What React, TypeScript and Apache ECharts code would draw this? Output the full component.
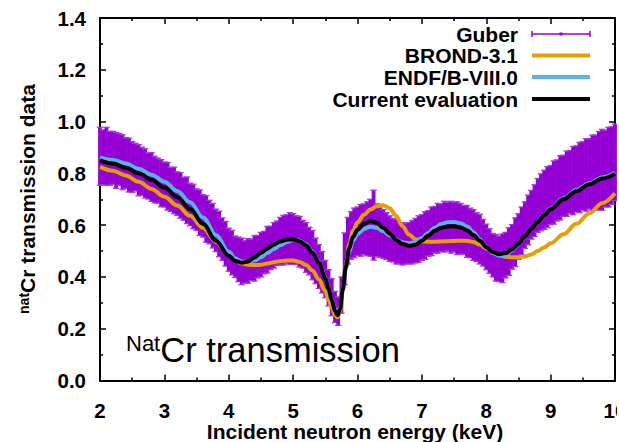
import React, { useEffect, useRef } from "react";
import * as echarts from "echarts";

// ---- Data ----
const guberEnergy = [
  2.0, 2.05, 2.1, 2.15, 2.2, 2.25, 2.3, 2.35, 2.4, 2.45,
  2.5, 2.55, 2.6, 2.65, 2.7, 2.75, 2.8, 2.85, 2.9, 2.95,
  3.0, 3.05, 3.1, 3.15, 3.2, 3.25, 3.3, 3.35, 3.4, 3.45,
  3.5, 3.55, 3.6, 3.65, 3.7, 3.75, 3.8, 3.85, 3.9, 3.95,
  4.0, 4.05, 4.1, 4.15, 4.2, 4.25, 4.3, 4.35, 4.4, 4.45,
  4.5, 4.55, 4.6, 4.65, 4.7, 4.75, 4.8, 4.85, 4.9, 4.95,
  5.0, 5.05, 5.1, 5.15, 5.2, 5.25, 5.3, 5.35, 5.4, 5.45,
  5.5, 5.55, 5.6, 5.65, 5.7, 5.75, 5.8, 5.85, 5.9, 5.95,
  6.0, 6.05, 6.1, 6.15, 6.2, 6.25, 6.3, 6.35, 6.4, 6.45,
  6.5, 6.55, 6.6, 6.65, 6.7, 6.75, 6.8, 6.85, 6.9, 6.95,
  7.0, 7.05, 7.1, 7.15, 7.2, 7.25, 7.3, 7.35, 7.4, 7.45,
  7.5, 7.55, 7.6, 7.65, 7.7, 7.75, 7.8, 7.85, 7.9, 7.95,
  8.0, 8.05, 8.1, 8.15, 8.2, 8.25, 8.3, 8.35, 8.4, 8.45,
  8.5, 8.55, 8.6, 8.65, 8.7, 8.75, 8.8, 8.85, 8.9, 8.95,
  9.0, 9.05, 9.1, 9.15, 9.2, 9.25, 9.3, 9.35, 9.4, 9.45,
  9.5, 9.55, 9.6, 9.65, 9.7, 9.75, 9.8, 9.85, 9.9, 9.95,
  10.0,
];
const guberTransmission = [
  0.866, 0.862, 0.866, 0.858, 0.86, 0.85, 0.854, 0.843, 0.84, 0.832,
  0.824, 0.824, 0.812, 0.808, 0.8, 0.79, 0.786, 0.776, 0.772, 0.762,
  0.757, 0.75, 0.738, 0.734, 0.722, 0.715, 0.702, 0.696, 0.68, 0.672,
  0.66, 0.648, 0.636, 0.624, 0.612, 0.598, 0.58, 0.566, 0.546, 0.528,
  0.505, 0.494, 0.478, 0.468, 0.46, 0.458, 0.462, 0.466, 0.472, 0.478,
  0.486, 0.494, 0.505, 0.512, 0.522, 0.53, 0.538, 0.542, 0.546, 0.548,
  0.546, 0.542, 0.536, 0.526, 0.514, 0.5, 0.484, 0.462, 0.44, 0.418,
  0.392, 0.358, 0.322, 0.284, 0.268, 0.33, 0.47, 0.54, 0.56, 0.57,
  0.576, 0.58, 0.584, 0.586, 0.59, 0.6, 0.58, 0.574, 0.566, 0.558,
  0.548, 0.542, 0.536, 0.53, 0.528, 0.528, 0.53, 0.534, 0.54, 0.546,
  0.552, 0.56, 0.568, 0.576, 0.582, 0.588, 0.59, 0.594, 0.594, 0.592,
  0.592, 0.588, 0.586, 0.582, 0.576, 0.57, 0.562, 0.554, 0.546, 0.532,
  0.516, 0.5, 0.484, 0.474, 0.47, 0.472, 0.484, 0.498, 0.516, 0.534,
  0.556, 0.578, 0.6, 0.62, 0.64, 0.656, 0.676, 0.688, 0.698, 0.708,
  0.716, 0.726, 0.734, 0.744, 0.752, 0.76, 0.766, 0.772, 0.778, 0.784,
  0.79, 0.794, 0.798, 0.802, 0.806, 0.81, 0.814, 0.818, 0.824, 0.83,
  0.842,
];
const guberError = [
  0.112, 0.106, 0.112, 0.104, 0.102, 0.108, 0.1, 0.106, 0.098, 0.104,
  0.098, 0.092, 0.099, 0.093, 0.095, 0.089, 0.094, 0.09, 0.087, 0.091,
  0.087, 0.092, 0.085, 0.09, 0.084, 0.088, 0.083, 0.09, 0.082, 0.086,
  0.08, 0.088, 0.082, 0.09, 0.084, 0.086, 0.082, 0.088, 0.082, 0.086,
  0.083, 0.086, 0.08, 0.086, 0.09, 0.082, 0.086, 0.08, 0.088, 0.082,
  0.086, 0.082, 0.09, 0.084, 0.088, 0.086, 0.092, 0.096, 0.094, 0.1,
  0.098, 0.094, 0.098, 0.092, 0.096, 0.092, 0.095, 0.088, 0.085, 0.08,
  0.072, 0.07, 0.072, 0.06, 0.055, 0.07, 0.1, 0.09, 0.092, 0.096,
  0.094, 0.1, 0.098, 0.104, 0.11, 0.135, 0.102, 0.098, 0.094, 0.09,
  0.088, 0.084, 0.086, 0.08, 0.082, 0.078, 0.08, 0.084, 0.086, 0.09,
  0.088, 0.092, 0.088, 0.094, 0.09, 0.096, 0.092, 0.098, 0.094, 0.1,
  0.096, 0.102, 0.098, 0.094, 0.1, 0.096, 0.098, 0.094, 0.096, 0.09,
  0.088, 0.086, 0.084, 0.09, 0.088, 0.094, 0.088, 0.092, 0.086, 0.094,
  0.088, 0.092, 0.09, 0.096, 0.094, 0.1, 0.104, 0.11, 0.114, 0.118,
  0.114, 0.122, 0.118, 0.124, 0.118, 0.126, 0.122, 0.132, 0.128, 0.136,
  0.132, 0.14, 0.136, 0.146, 0.142, 0.152, 0.156, 0.148, 0.154, 0.15,
  0.148,
];

const evalEnergy = [
  2.0, 2.2, 2.4, 2.6, 2.8, 3.0, 3.2, 3.4, 3.6, 3.8,
  4.0, 4.1, 4.2, 4.3, 4.4, 4.5, 4.6, 4.7, 4.8, 4.9, 5.0, 5.1, 5.2, 5.3, 5.4, 5.5,
  5.55, 5.6, 5.65, 5.69, 5.73, 5.77, 5.82, 5.87, 5.93,
  6.0, 6.1, 6.2, 6.3, 6.4, 6.5, 6.6, 6.7, 6.8, 6.9, 7.0, 7.1, 7.2, 7.3, 7.4, 7.5,
  7.6, 7.7, 7.8, 7.9, 8.0, 8.1, 8.2, 8.3, 8.4, 8.5, 8.6, 8.7, 8.8, 8.9, 9.0,
  9.2, 9.4, 9.6, 9.8, 10.0,
];
const brondValues = [
  0.825, 0.81, 0.792, 0.768, 0.74, 0.71, 0.676, 0.636, 0.59, 0.535,
  0.484, 0.463, 0.452, 0.447, 0.446, 0.447, 0.452, 0.457, 0.461, 0.463, 0.463, 0.458, 0.446, 0.425, 0.39, 0.345,
  0.312, 0.28, 0.252, 0.244, 0.268, 0.345, 0.445, 0.525, 0.578,
  0.61, 0.64, 0.66, 0.673, 0.677, 0.665, 0.636, 0.596, 0.564, 0.546, 0.538, 0.536, 0.536, 0.537, 0.538, 0.539,
  0.54, 0.54, 0.535, 0.525, 0.51, 0.495, 0.484, 0.478, 0.476, 0.476, 0.479, 0.487, 0.5, 0.514, 0.53,
  0.565, 0.605, 0.645, 0.685, 0.723,
];
const endfValues = [
  0.862, 0.852, 0.838, 0.818, 0.795, 0.768, 0.732, 0.688, 0.63, 0.562,
  0.497, 0.472, 0.46, 0.458, 0.464, 0.476, 0.492, 0.508, 0.522, 0.535, 0.543, 0.54, 0.526, 0.498, 0.458, 0.398,
  0.357, 0.313, 0.274, 0.262, 0.283, 0.35, 0.432, 0.497, 0.54,
  0.565, 0.585, 0.594, 0.59, 0.576, 0.56, 0.545, 0.534, 0.53, 0.535, 0.55, 0.57, 0.59, 0.604, 0.611, 0.612,
  0.607, 0.595, 0.573, 0.545, 0.516, 0.492, 0.482, 0.486, 0.502, 0.526, 0.555, 0.585, 0.613, 0.64, 0.664,
  0.704, 0.736, 0.762, 0.784, 0.802,
];
const currentValues = [
  0.85, 0.838, 0.822, 0.8, 0.775, 0.745, 0.708, 0.662, 0.605, 0.54,
  0.482, 0.462, 0.455, 0.46, 0.475, 0.493, 0.51, 0.525, 0.537, 0.544, 0.545, 0.538, 0.522, 0.494, 0.455, 0.395,
  0.355, 0.31, 0.268, 0.252, 0.276, 0.35, 0.44, 0.51, 0.555,
  0.582, 0.605, 0.616, 0.61, 0.59, 0.567, 0.543, 0.527, 0.52, 0.524, 0.54, 0.56, 0.578, 0.59, 0.595, 0.596,
  0.591, 0.58, 0.562, 0.54, 0.515, 0.496, 0.488, 0.492, 0.506, 0.528, 0.556, 0.585, 0.612, 0.638, 0.661,
  0.7, 0.731, 0.758, 0.78, 0.798,
];

const seriesNames = ["Guber", "BROND-3.1", "ENDF/B-VIII.0", "Current evaluation"];
const seriesColors = ["#9400D3", "#E69F00", "#56B4E9", "#000000"];

const xTitle = "Incident neutron energy (keV)";
const yTitleSup = "nat";
const yTitleMain = "Cr transmission data";
const insetSup = "Nat";
const insetMain = "Cr transmission";

export default function App() {
  const ref = useRef<HTMLDivElement>(null);

  useEffect(() => {
    if (!ref.current) return;
    const chart = echarts.init(ref.current, null, { renderer: "svg" });
    const font = "'Liberation Sans', Arial, Helvetica, sans-serif";

    const guberData = guberEnergy.map((e, i) => [e, guberTransmission[i], guberError[i]]);
    const pairs = (ys: number[]) => evalEnergy.map((e, i) => [e, ys[i]]);

    const axisCommon = {
      axisLine: { show: true, onZero: false, lineStyle: { color: "#000", width: 2 } },
      axisTick: { show: true, inside: true, length: 6, lineStyle: { color: "#000", width: 1.5 } },
      minorTick: { show: true, splitNumber: 2, length: 3, lineStyle: { color: "#000", width: 1.5 } },
      splitLine: { show: false },
      minorSplitLine: { show: false },
    };
    const labelStyle = { color: "#000", fontSize: 20.5, fontWeight: "bold", fontFamily: font };

    const legendRows = [34, 55.5, 77, 99];
    const legendTextX = 518;
    const legendX1 = 532;
    const legendX2 = 590;

    const graphic: any[] = [];
    seriesNames.forEach((name, i) => {
      graphic.push({
        type: "text",
        x: legendTextX,
        y: legendRows[i],
        z: 100,
        style: {
          text: name,
          fontSize: 21,
          fontWeight: "bold",
          fontFamily: font,
          fill: "#000",
          align: "right",
          verticalAlign: "middle",
        },
      });
      if (i === 0) {
        const y = legendRows[i];
        const st = { stroke: seriesColors[0], lineWidth: 1.5 };
        graphic.push({ type: "line", z: 100, shape: { x1: legendX1, y1: y, x2: legendX2, y2: y }, style: st });
        graphic.push({ type: "line", z: 100, shape: { x1: legendX1, y1: y - 3, x2: legendX1, y2: y + 3 }, style: st });
        graphic.push({ type: "line", z: 100, shape: { x1: legendX2, y1: y - 3, x2: legendX2, y2: y + 3 }, style: st });
        graphic.push({
          type: "rect",
          z: 100,
          shape: { x: (legendX1 + legendX2) / 2 - 1.5, y: y - 1.5, width: 3, height: 3 },
          style: { fill: seriesColors[0] },
        });
      } else {
        graphic.push({
          type: "line",
          z: 100,
          shape: { x1: legendX1, y1: legendRows[i], x2: legendX2, y2: legendRows[i] },
          style: { stroke: seriesColors[i], lineWidth: 4 },
        });
      }
    });

    // y-axis title (rotated, with superscript)
    graphic.push({
      type: "text",
      x: 27,
      y: 199,
      rotation: Math.PI / 2,
      z: 100,
      style: {
        text: `{sup|${yTitleSup}}{main|${yTitleMain}}`,
        align: "center",
        verticalAlign: "middle",
        fill: "#000",
        rich: {
          sup: { fontSize: 14, fontWeight: "bold", fontFamily: font, verticalAlign: "top", fill: "#000" },
          main: { fontSize: 21, fontWeight: "bold", fontFamily: font, verticalAlign: "bottom", fill: "#000" },
        },
      },
    });

    // x-axis title
    graphic.push({
      type: "text",
      x: 355,
      y: 431,
      z: 100,
      style: {
        text: xTitle,
        fontSize: 21,
        fontWeight: "bold",
        fontFamily: font,
        fill: "#000",
        align: "center",
        verticalAlign: "middle",
      },
    });

    // inset label
    graphic.push({
      type: "text",
      x: 126,
      y: 332,
      z: 100,
      style: {
        text: `{sup|${insetSup}}{main|${insetMain}}`,
        align: "left",
        verticalAlign: "top",
        fill: "#000",
        rich: {
          sup: { fontSize: 22, fontFamily: font, verticalAlign: "top", fill: "#000" },
          main: { fontSize: 34.5, fontFamily: font, verticalAlign: "bottom", fill: "#000" },
        },
      },
    });

    const option: any = {
      animation: false,
      backgroundColor: "#fff",
      grid: { left: 100, right: 2, top: 18, bottom: 61.5, containLabel: false, outerBoundsMode: "none" },
      xAxis: [
        {
          type: "value",
          min: 2,
          max: 10,
          interval: 1,
          position: "bottom",
          ...axisCommon,
          axisLabel: { ...labelStyle, margin: 19, showMaxLabel: true, showMinLabel: true },
        },
        {
          type: "value",
          min: 2,
          max: 10,
          interval: 1,
          position: "top",
          ...axisCommon,
          axisLabel: { show: false },
        },
      ],
      yAxis: [
        {
          type: "value",
          min: 0,
          max: 1.4,
          interval: 0.2,
          position: "left",
          ...axisCommon,
          axisLabel: { ...labelStyle, margin: 14, formatter: (v: number) => v.toFixed(1) },
        },
        {
          type: "value",
          min: 0,
          max: 1.4,
          interval: 0.2,
          position: "right",
          ...axisCommon,
          axisLabel: { show: false },
        },
      ],
      series: [
        {
          type: "custom",
          name: seriesNames[0],
          xAxisIndex: 0,
          yAxisIndex: 0,
          dimensions: ["energy", "transmission", "error"],
          encode: { x: 0, y: 1 },
          data: guberData,
          z: 2,
          renderItem: (params: any, api: any) => {
            const x = api.value(0);
            const y = api.value(1);
            const e = api.value(2);
            const lo = api.coord([x, y - e]);
            const hi = api.coord([x, y + e]);
            const mid = api.coord([x, y]);
            const cw = 3.2;
            const barStyle = { stroke: seriesColors[0], lineWidth: 3.8 };
            const capStyle = { stroke: "#A43BDD", lineWidth: 1.3 };
            return {
              type: "group",
              children: [
                { type: "line", shape: { x1: lo[0], y1: lo[1], x2: hi[0], y2: hi[1] }, style: barStyle },
                { type: "line", shape: { x1: lo[0] - cw, y1: lo[1], x2: lo[0] + cw, y2: lo[1] }, style: capStyle },
                { type: "line", shape: { x1: hi[0] - cw, y1: hi[1], x2: hi[0] + cw, y2: hi[1] }, style: capStyle },
                {
                  type: "rect",
                  shape: { x: mid[0] - 1.5, y: mid[1] - 1.5, width: 3, height: 3 },
                  style: { fill: seriesColors[0] },
                },
              ],
            };
          },
        },
        {
          type: "line",
          name: seriesNames[1],
          data: pairs(brondValues),
          showSymbol: false,
          smooth: 0.35,
          smoothMonotone: "x",
          lineStyle: { color: seriesColors[1], width: 4 },
          itemStyle: { color: seriesColors[1] },
          z: 3,
        },
        {
          type: "line",
          name: seriesNames[2],
          data: pairs(endfValues),
          showSymbol: false,
          smooth: 0.35,
          smoothMonotone: "x",
          lineStyle: { color: seriesColors[2], width: 4 },
          itemStyle: { color: seriesColors[2] },
          z: 4,
        },
        {
          type: "line",
          name: seriesNames[3],
          data: pairs(currentValues),
          showSymbol: false,
          smooth: 0.35,
          smoothMonotone: "x",
          lineStyle: { color: seriesColors[3], width: 4 },
          itemStyle: { color: seriesColors[3] },
          z: 5,
        },
      ],
      graphic,
    };

    chart.setOption(option);
    return () => chart.dispose();
  }, []);

  return (
    <div
      ref={ref}
      style={{ position: "absolute", left: 0, top: 0, width: 617, height: 442, overflow: "hidden", background: "#fff" }}
    />
  );
}
